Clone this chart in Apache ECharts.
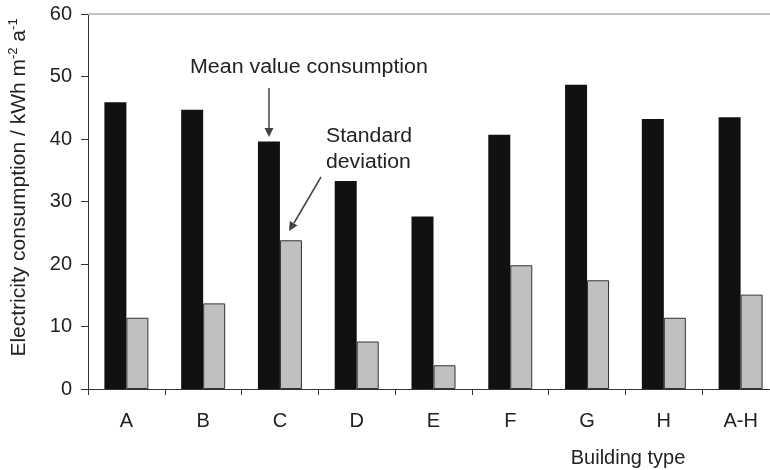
<!DOCTYPE html>
<html lang="en">
<head>
    <meta charset="UTF-8">
    <title>Electricity consumption by building type</title>
    <script src="https://cdn.jsdelivr.net/npm/echarts@6/dist/echarts.min.js"></script>
    <style>
        body { margin: 0; padding: 0; background: #fff; }
        #chart { width: 770px; height: 470px; }
    </style>
</head>
<body>
<div id="chart"></div>
<script>
    // data
    var buildingTypes = ['A', 'B', 'C', 'D', 'E', 'F', 'G', 'H', 'A-H'];
    var meanConsumption = [45.9, 44.7, 39.6, 33.3, 27.6, 40.7, 48.7, 43.2, 43.5];
    var stdDeviation = [11.4, 13.7, 23.8, 7.6, 3.8, 19.8, 17.4, 11.4, 15.1];
    var yTicks = [0, 10, 20, 30, 40, 50, 60];

    var font = "'Liberation Sans', Arial, sans-serif";
    var textColor = '#222';

    var chart = echarts.init(document.getElementById('chart'));

    var option = {
        animation: false,
        grid: {
            left: 88,
            top: 14,
            right: -9,
            height: 375,
            outerBoundsMode: 'none'
        },
        xAxis: [
            {
                type: 'category',
                data: buildingTypes,
                axisLine: { lineStyle: { color: '#333', width: 1 } },
                axisTick: { show: true, length: 6, lineStyle: { color: '#333' } },
                axisLabel: { fontFamily: font, fontSize: 20, color: textColor, margin: 22 },
                name: 'Building type',
                nameLocation: 'middle',
                nameGap: 59,
                nameTextStyle: { fontFamily: font, fontSize: 20, color: textColor, padding: [0, 0, 0, 389] }
            },
            {
                // the light line along the top of the plot
                type: 'category',
                data: buildingTypes,
                position: 'top',
                axisLine: { lineStyle: { color: '#c4c4c4', width: 2 } },
                axisTick: { show: false },
                axisLabel: { show: false }
            }
        ],
        yAxis: {
            type: 'value',
            min: yTicks[0],
            max: yTicks[yTicks.length - 1],
            interval: 10,
            axisLine: { show: true, lineStyle: { color: '#333', width: 1 } },
            axisTick: { show: true, length: 7, lineStyle: { color: '#333' } },
            splitLine: { show: false },
            axisLabel: { fontFamily: font, fontSize: 20, color: textColor, margin: 16 },
            name: 'Electricity consumption / kWh m{sup|-2} a{sup|-1}',
            nameLocation: 'middle',
            nameGap: 57,
            nameTextStyle: {
                fontFamily: font,
                fontSize: 21,
                color: textColor,
                padding: [0, 0, 0, 28],
                rich: {
                    sup: { fontFamily: font, fontSize: 13, color: textColor, padding: [0, 0, 11, 0] }
                }
            }
        },
        series: [
            {
                name: 'Mean value consumption',
                type: 'bar',
                data: meanConsumption,
                barWidth: 22,
                barGap: '0%',
                itemStyle: { color: '#111' }
            },
            {
                name: 'Standard deviation',
                type: 'bar',
                data: stdDeviation,
                barWidth: 22,
                itemStyle: { color: '#c0c0c0', borderColor: '#333', borderWidth: 1 }
            }
        ],
        graphic: [
            {
                type: 'text',
                x: 190,
                y: 67,
                scaleX: 1.07,
                style: { text: 'Mean value consumption', font: '20px ' + font, fill: textColor, verticalAlign: 'middle' }
            },
            {
                type: 'line',
                shape: { x1: 269, y1: 88, x2: 269, y2: 129 },
                style: { stroke: '#444', lineWidth: 1.5 }
            },
            {
                type: 'polygon',
                shape: { points: [[264.5, 128], [273.5, 128], [269, 137]] },
                style: { fill: '#444' }
            },
            {
                type: 'text',
                x: 326,
                y: 136,
                scaleX: 1.06,
                style: { text: 'Standard', font: '20px ' + font, fill: textColor, verticalAlign: 'middle' }
            },
            {
                type: 'text',
                x: 326,
                y: 162,
                scaleX: 1.06,
                style: { text: 'deviation', font: '20px ' + font, fill: textColor, verticalAlign: 'middle' }
            },
            {
                type: 'line',
                shape: { x1: 321, y1: 177, x2: 294, y2: 223 },
                style: { stroke: '#444', lineWidth: 1.5 }
            },
            {
                type: 'polygon',
                shape: { points: [[297.5, 225.5], [289.8, 221], [289, 231]] },
                style: { fill: '#444' }
            }
        ]
    };

    chart.setOption(option);
</script>
</body>
</html>
